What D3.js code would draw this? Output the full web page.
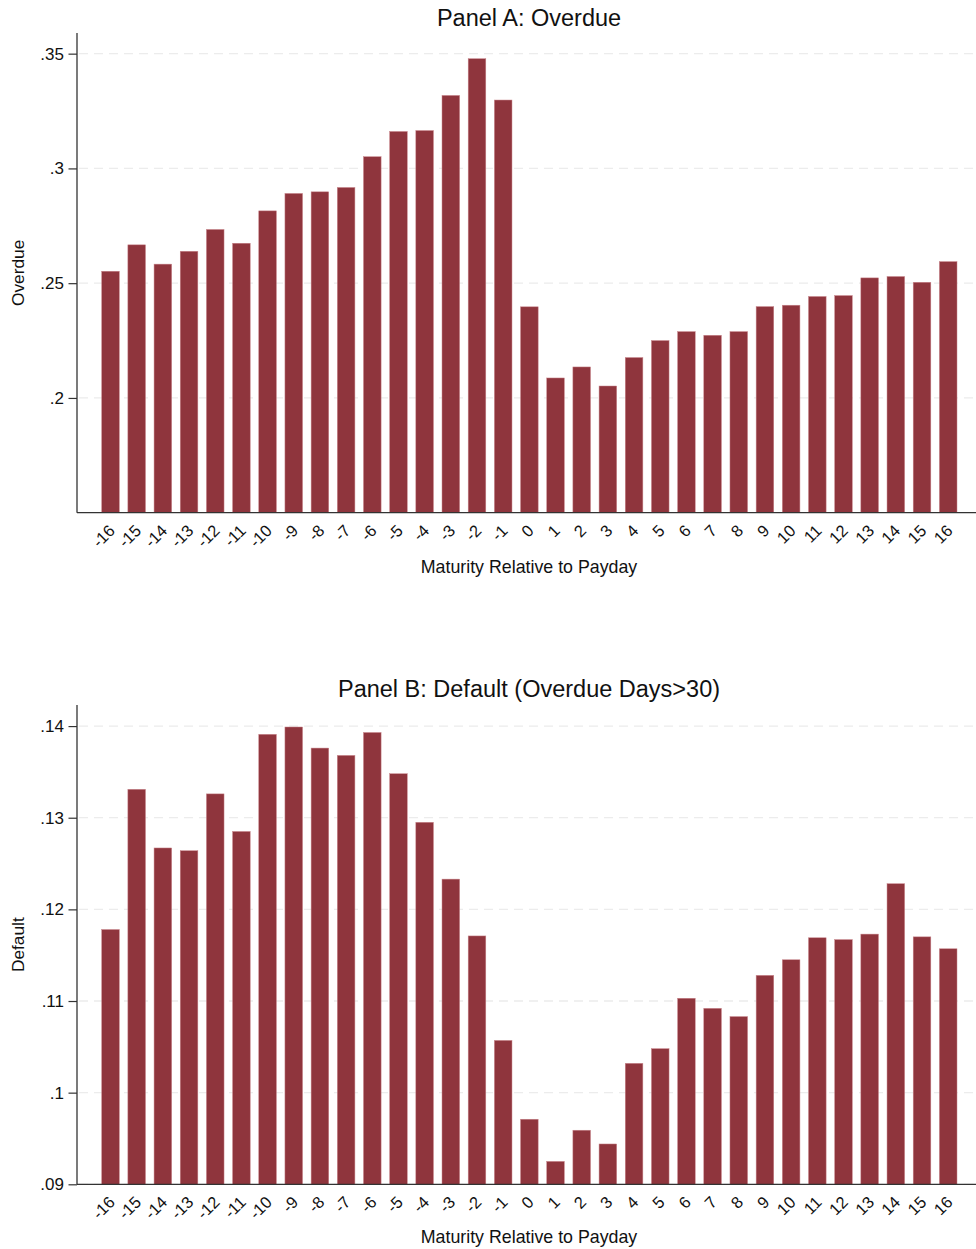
<!DOCTYPE html>
<html>
<head>
<meta charset="utf-8">
<script src="https://cdn.jsdelivr.net/npm/d3@7/dist/d3.min.js"></script>
<style>
  html, body { margin: 0; padding: 0; background: #fff; }
  svg { display: block; font-family: Arial, "Liberation Sans", sans-serif; }
</style>
</head>
<body>
<svg id="chart" width="976" height="1249"></svg>
<script>
// Days between loan maturity and payday
const days = [-16,-15,-14,-13,-12,-11,-10,-9,-8,-7,-6,-5,-4,-3,-2,-1,0,1,2,3,4,5,6,7,8,9,10,11,12,13,14,15,16];

// Panel A: share of loans overdue
const overdue = [0.2552,0.2667,0.2583,0.2639,0.2734,0.2674,0.2815,0.2891,0.2898,0.2917,0.3051,0.3161,0.3165,0.3318,0.3478,0.3298,
                 0.2397,0.2087,0.2135,0.2052,0.2176,0.2250,0.2289,0.2273,0.2289,0.2398,0.2404,0.2442,0.2446,0.2523,0.2529,0.2504,0.2594];

// Panel B: share of loans in default (overdue more than 30 days)
const defaults = [0.1178,0.1331,0.1267,0.1264,0.1326,0.1285,0.1391,0.1399,0.1376,0.1368,0.1393,0.1348,0.1295,0.1233,0.1171,
                  0.1057,0.0971,0.0925,0.0959,0.0944,0.1032,0.1048,0.1103,0.1092,0.1083,0.1128,0.1145,0.1169,0.1167,0.1173,0.1228,0.1170,0.1157];

const overdueTicks = [0.2, 0.25, 0.3, 0.35];
const defaultTicks = [0.09, 0.10, 0.11, 0.12, 0.13, 0.14];

const panels = [
  { title: "Panel A: Overdue", yTitle: "Overdue", values: overdue, ticks: overdueTicks,
    domain: [0.15, 0.359], top: 33, bottom: 512.7, titleY: 26, xTitleY: 573 },
  { title: "Panel B: Default (Overdue Days>30)", yTitle: "Default", values: defaults, ticks: defaultTicks,
    domain: [0.09, 0.1423], top: 705, bottom: 1184.3, titleY: 697, xTitleY: 1243 }
];

const svg = d3.select("#chart");
const axisX = 77, rightEdge = 976;
const barColor = "#8f353d";
const fmt = v => d3.format("")(+v.toFixed(3)).replace(/^0\./, ".");

const x = d3.scaleBand()
  .domain(days)
  .range([101.7, 957])
  .paddingInner(0.327)
  .paddingOuter(0);

panels.forEach(p => {
  const y = d3.scaleLinear().domain(p.domain).range([p.bottom, p.top]);
  const g = svg.append("g");

  // dashed horizontal grid
  g.append("g").selectAll("line")
    .data(p.ticks)
    .join("line")
      .attr("x1", axisX + 2).attr("x2", rightEdge)
      .attr("y1", d => y(d)).attr("y2", d => y(d))
      .attr("stroke", "#ececec")
      .attr("stroke-width", 1.3)
      .attr("stroke-dasharray", "9,6");

  // bars
  g.append("g").selectAll("rect")
    .data(p.values.map((v, i) => ({ day: days[i], v })))
    .join("rect")
      .attr("x", d => x(d.day))
      .attr("width", x.bandwidth())
      .attr("y", d => y(d.v))
      .attr("height", d => y(p.domain[0]) - y(d.v))
      .attr("fill", barColor)
      .attr("stroke", "#c9868c")
      .attr("stroke-width", 0.5);

  // y axis
  const yAxis = d3.axisLeft(y)
    .tickValues(p.ticks)
    .tickFormat(fmt)
    .tickSize(8.5)
    .tickSizeOuter(0)
    .tickPadding(4.5);
  const ya = g.append("g").attr("transform", `translate(${axisX},0)`).call(yAxis);
  ya.select(".domain").remove();
  ya.selectAll(".tick line").attr("stroke", "#333").attr("stroke-width", 1.2);
  ya.selectAll(".tick text").attr("fill", "#111").style("font-size", "17px")
    .style("font-family", "Arial, 'Liberation Sans', sans-serif");
  g.append("line")
    .attr("x1", axisX).attr("x2", axisX)
    .attr("y1", p.top).attr("y2", p.bottom)
    .attr("stroke", "#333").attr("stroke-width", 1.3);

  // x axis
  const xAxis = d3.axisBottom(x).tickSize(0).tickSizeOuter(0);
  const xa = g.append("g").attr("transform", `translate(0,${p.bottom})`).call(xAxis);
  xa.select(".domain").remove();
  xa.selectAll(".tick text")
    .attr("fill", "#111")
    .style("font-size", "16.5px")
    .style("font-family", "Arial, 'Liberation Sans', sans-serif")
    .attr("text-anchor", "end")
    .attr("dy", null)
    .attr("y", 0)
    .attr("transform", "translate(5.5,19) rotate(-45)");
  g.append("line")
    .attr("x1", axisX).attr("x2", rightEdge)
    .attr("y1", p.bottom).attr("y2", p.bottom)
    .attr("stroke", "#333").attr("stroke-width", 1.3);

  // titles
  g.append("text")
    .attr("x", 529).attr("y", p.titleY)
    .attr("text-anchor", "middle")
    .style("font-size", "23.5px")
    .attr("fill", "#111")
    .text(p.title);

  g.append("text")
    .attr("x", 529).attr("y", p.xTitleY)
    .attr("text-anchor", "middle")
    .style("font-size", "17.8px")
    .attr("fill", "#111")
    .text("Maturity Relative to Payday");

  g.append("text")
    .attr("transform", `translate(24,${(p.top + p.bottom) / 2}) rotate(-90)`)
    .attr("text-anchor", "middle")
    .style("font-size", "17.3px")
    .attr("fill", "#111")
    .text(p.yTitle);
});
</script>
</body>
</html>
